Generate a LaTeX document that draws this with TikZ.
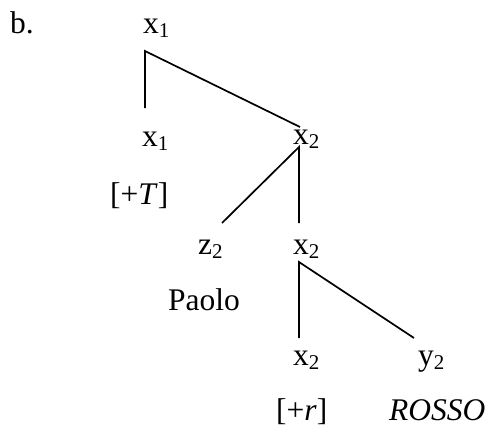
\documentclass[tikz,border=0pt]{standalone}
\usepackage{fontspec}
\setmainfont{Liberation Serif}
\newcommand\sbs[1]{\raisebox{-4pt}{\fontsize{21}{21}\selectfont #1}}
\begin{document}
\begin{tikzpicture}[x=1pt,y=-1pt,
  lbl/.style={anchor=base west,inner sep=0pt,font=\fontsize{31.5}{36}\selectfont},
  branch/.style={line width=1.7pt,line cap=butt}]
\useasboundingbox (0,0) rectangle (485,426);
% labels
\node[lbl] (b) at (10,33) {b.};
\node[lbl] (r) at (143,33) {x\sbs{1}};
\node[lbl] (l1) at (142,146) {x\sbs{1}};
\node[lbl] (f1) at (110,204) {[+\textit{T}]};
\node[lbl] (m1) at (293,144) {x\sbs{2}};
\node[lbl] (z) at (198,254) {z\sbs{2}};
\node[lbl] (m2) at (293,254) {x\sbs{2}};
\node[lbl] (paolo) at (168,310) {Paolo};
\node[lbl] (l3) at (293,365) {x\sbs{2}};
\node[lbl] (y) at (418,365) {y\sbs{2}};
\node[lbl] (f3) at (276,420) {[+\textit{r}]};
\node[lbl] (rosso) at (389,420) {\textit{ROSSO}};
% branch points
\coordinate (rA) at (145,51);
\coordinate (l1T) at (145,108);
\coordinate (m1T) at (300,127);
\coordinate (m1A) at (299,147);
\coordinate (zT) at (222,223);
\coordinate (m2T) at (299,223);
\coordinate (m2A) at (299,262);
\coordinate (l3T) at (299,338);
\coordinate (yT) at (414,338);
% connectors
\draw[branch] (l1T) -- (rA) -- (m1T);
\draw[branch] (zT) -- (m1A) -- (m2T);
\draw[branch] (l3T) -- (m2A) -- (yT);
\end{tikzpicture}
\end{document}
